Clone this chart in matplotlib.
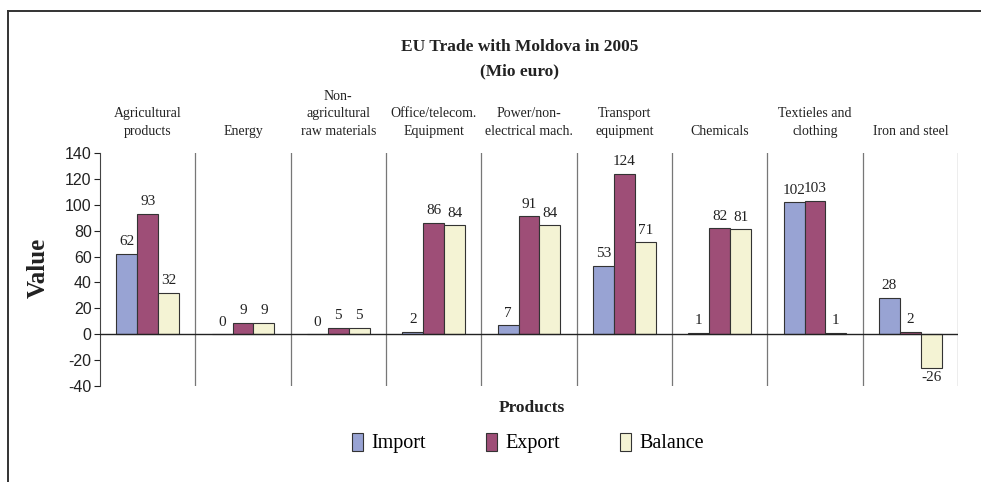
import matplotlib
matplotlib.use('Agg')
import matplotlib.pyplot as plt
from matplotlib.patches import Patch
from matplotlib.lines import Line2D
import matplotlib.transforms as mtransforms
import numpy as np

# ── Data ──────────────────────────────────────────────────
categories = ["Agricultural\nproducts", "Energy", "Non-\nagricultural\nraw materials",
              "Office/telecom.\nEquipment", "Power/non-\nelectrical mach.",
              "Transport\nequipment", "Chemicals", "Textieles and\nclothing",
              "Iron and steel"]
imports = [62, 0, 0, 2, 7, 53, 1, 102, 28]
exports = [93, 9, 5, 86, 91, 124, 82, 103, 2]
balance = [32, 9, 5, 84, 84, 71, 81, 1, -26]
series_names = ["Import", "Export", "Balance"]
series_colors = ["#98A3D3", "#9E4E77", "#F4F3D4"]

SERIF = "Liberation Serif"
SANS = "Liberation Sans"

fig = plt.figure(figsize=(9.81, 4.82), dpi=100)
ax = fig.add_axes([100/981, 1 - 386/482, 858/981, 233/482])

# frame round the chart (left + top edges visible)
fig.add_artist(Line2D([8/981, 8/981], [0, 1 - 11/482], transform=fig.transFigure,
                      color="#333333", lw=1.4))
fig.add_artist(Line2D([8/981, 1], [1 - 11/482, 1 - 11/482], transform=fig.transFigure,
                      color="#333333", lw=1.4))

x = np.arange(len(categories)) + 0.5
w = 0.22
for k, (vals, col) in enumerate(zip([imports, exports, balance], series_colors)):
    xs = x + (k - 1) * w
    ax.bar(xs, vals, width=w, color=col, edgecolor="#333333", linewidth=0.8, zorder=3)
    for xi, v in zip(xs, vals):
        if v < 0:
            ax.annotate(str(v), (xi, v), xytext=(0, -2), textcoords="offset points",
                        ha="center", va="top", fontsize=11, family=SERIF, color="#222222")
        else:
            ax.annotate(str(v), (xi, v), xytext=(0, 4), textcoords="offset points",
                        ha="center", va="bottom", fontsize=11, family=SERIF, color="#222222")

ax.set_xlim(0, len(categories))
ax.set_ylim(-40, 140)
ax.set_yticks(range(-40, 141, 20))
ax.set_yticklabels([str(v) for v in range(-40, 141, 20)], family=SANS, fontsize=11.5)
ax.tick_params(axis="y", direction="out", length=4, width=0.8, pad=2, colors="#222222")
ax.set_xticks([])

# category separators
for b in range(1, len(categories) + 1):
    ax.axvline(b, color="#777777", lw=0.9, zorder=1)
ax.axhline(0, color="#222222", lw=1.0, zorder=4)

for s in ["top", "right", "bottom"]:
    ax.spines[s].set_visible(False)
ax.spines["left"].set_color("#444444")

# category labels above plot
trans = mtransforms.blended_transform_factory(ax.transData, ax.transAxes)
for xi, lab in zip(x, categories):
    ax.annotate(lab, (xi, 1), xycoords=trans, xytext=(0, 11), textcoords="offset points",
                ha="center", va="bottom", fontsize=10, family=SERIF,
                linespacing=1.45, color="#222222")

fig.text(520/981, 1 - 47/482, "EU Trade with Moldova in 2005", ha="center", va="center",
         fontsize=12.5, fontweight="bold", family=SERIF, color="#222222")
fig.text(520/981, 1 - 71/482, "(Mio euro)", ha="center", va="center",
         fontsize=12.5, fontweight="bold", family=SERIF, color="#222222")

fig.text(38/981, 1 - 268/482, "Value", ha="center", va="center", rotation=90,
         fontsize=18, fontweight="bold", family=SERIF, color="#222222")
fig.text(532/981, 1 - 408/482, "Products", ha="center", va="center",
         fontsize=12.5, fontweight="bold", family=SERIF, color="#222222")

handles = [Patch(facecolor=c, edgecolor="#333333", linewidth=0.8) for c in series_colors]
fig.legend(handles, series_names, loc="center", bbox_to_anchor=(528/981, 1 - 443/482),
           ncol=3, frameon=False, handlelength=0.55, handleheight=1.0, handletextpad=0.4,
           columnspacing=3.0, prop={"family": SERIF, "size": 14.5})

fig.savefig("out.png", dpi=100)
